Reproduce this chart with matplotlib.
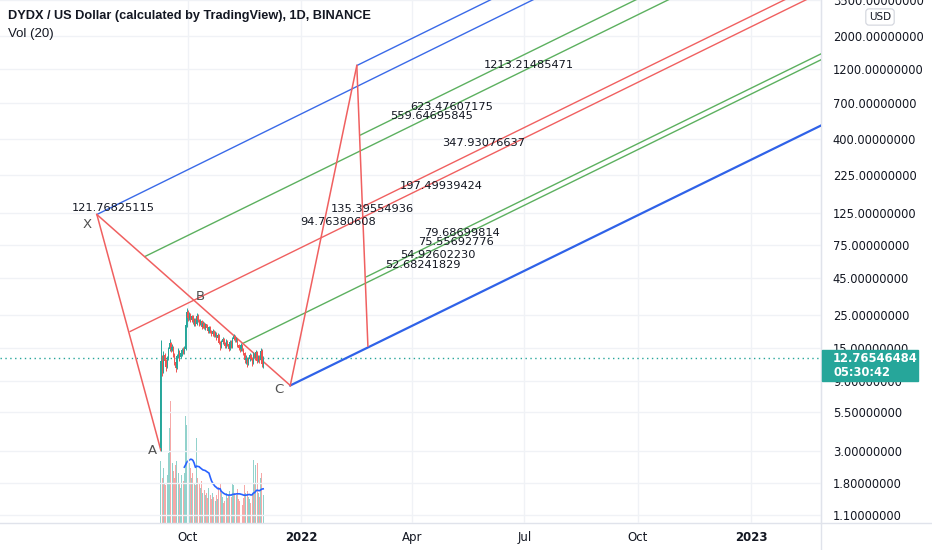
import numpy as np
import pandas as pd
import matplotlib
matplotlib.use("Agg")
import matplotlib.pyplot as plt
from matplotlib.patches import Rectangle
from matplotlib.lines import Line2D
from matplotlib.ticker import NullLocator, NullFormatter

# candles diarios DYDX/USD (Binance), 9 set - 1 dez 2021
dias = pd.date_range("2021-09-09", "2021-12-01", freq="D")
abertura = [3.1, 12.3, 10.5, 13.5, 12.2, 11.2, 12.8, 14.8, 16.2, 14.6, 15.2, 13.4, 12.1, 11.0, 13.3, 14.2,
            13.1, 13.9, 14.6, 14.0, 14.8, 21.5, 26.4, 24.0, 25.2, 23.1, 24.6, 22.4, 23.5, 21.9, 24.8, 23.2,
            21.8, 22.9, 21.0, 22.2, 20.6, 21.8, 20.4, 19.5, 20.8, 19.4, 18.7, 19.6, 18.2, 19.0, 17.6, 18.4,
            16.3, 15.2, 16.4, 17.3, 16.1, 15.4, 16.8, 15.9, 14.8, 16.6, 15.3, 17.4, 18.1, 16.9, 17.2, 15.6,
            15.1, 14.7, 15.8, 14.6, 13.9, 12.4, 12.9, 11.8, 12.6, 13.4, 12.7, 11.9, 13.6, 12.8, 14.1, 12.3,
            13.1, 12.5, 14.4, 11.6]
fechamento = [12.3, 10.5, 13.5, 12.2, 11.2, 12.8, 14.8, 16.2, 14.6, 15.2, 13.4, 12.1, 11.0, 13.3, 14.2, 13.1,
              13.9, 14.6, 14.0, 14.8, 21.5, 26.4, 24.0, 25.2, 23.1, 24.6, 22.4, 23.5, 21.9, 24.8, 23.2, 21.8,
              22.9, 21.0, 22.2, 20.6, 21.8, 20.4, 19.5, 20.8, 19.4, 18.7, 19.6, 18.2, 19.0, 17.6, 18.4, 16.3,
              15.2, 16.4, 17.3, 16.1, 15.4, 16.8, 15.9, 14.8, 16.6, 15.3, 17.4, 18.1, 16.9, 17.2, 15.6, 15.1,
              14.7, 15.8, 14.6, 13.9, 12.4, 12.9, 11.8, 12.6, 13.4, 12.7, 11.9, 13.6, 12.8, 14.1, 12.3, 13.1,
              12.5, 14.4, 11.6, 12.77]
maxima = [17.0, 13.4, 14.2, 13.9, 12.6, 13.3, 15.3, 17.4, 16.6, 15.9, 15.5, 13.8, 12.6, 13.7, 14.9, 14.6,
          14.3, 15.1, 15.2, 15.4, 22.6, 27.9, 27.2, 26.3, 25.8, 25.3, 25.0, 24.1, 23.9, 26.0, 25.4, 23.7,
          23.5, 23.2, 22.8, 22.5, 22.3, 22.0, 20.8, 21.3, 21.1, 19.9, 20.2, 19.8, 19.5, 19.3, 18.9, 18.6,
          16.7, 16.9, 17.8, 17.6, 16.5, 17.2, 17.1, 16.2, 17.0, 16.9, 17.9, 18.7, 18.4, 17.8, 17.6, 15.9,
          15.5, 16.2, 16.0, 15.0, 14.1, 13.4, 13.1, 13.0, 13.8, 13.7, 13.0, 14.0, 13.9, 14.6, 14.3, 13.5,
          13.4, 15.0, 14.7, 13.2]
minima = [3.0, 9.6, 10.1, 11.7, 10.4, 10.9, 12.5, 14.3, 14.0, 14.2, 13.0, 11.5, 10.3, 10.8, 12.9, 12.2,
          12.8, 13.2, 13.6, 13.7, 14.5, 20.8, 22.9, 23.4, 22.5, 22.6, 21.8, 21.3, 21.2, 21.6, 22.7, 21.1,
          21.4, 20.3, 20.6, 20.1, 20.0, 19.9, 18.9, 19.1, 19.0, 18.1, 18.2, 17.7, 17.9, 17.0, 17.2, 15.9,
          14.6, 14.9, 16.0, 15.8, 14.9, 15.1, 15.5, 14.4, 14.6, 14.9, 15.0, 17.0, 16.5, 16.4, 15.2, 14.6,
          14.1, 14.4, 14.2, 13.4, 11.9, 11.7, 11.2, 11.4, 12.3, 12.4, 11.3, 11.6, 12.4, 12.6, 11.8, 12.0,
          11.9, 12.3, 11.1, 11.0]
volume = [62, 45, 55, 40, 38, 48, 70, 95, 122, 60, 52, 45, 58, 62, 50, 40, 35, 48, 42, 50,
          107, 98, 78, 60, 55, 45, 50, 40, 38, 85, 45, 40, 35, 42, 30, 33, 28, 30, 25, 35,
          28, 24, 30, 26, 22, 28, 24, 36, 40, 30, 26, 20, 22, 30, 25, 28, 32, 26, 40, 38,
          30, 28, 34, 24, 22, 20, 18, 25, 38, 30, 32, 26, 24, 20, 28, 63, 40, 58, 60, 30,
          26, 45, 50, 28]
ultimo_preco = 12.76546484
contagem = "05:30:42"

# pontos do padrao X, A, C, D, E
padrao_datas = ["2021-07-19", "2021-09-09", "2021-12-23", "2022-02-15", "2022-02-24"]
padrao_precos = [121.77, 3.0, 8.33, 1260, 15.47]

# linhas paralelas (inicio e fim)
raio_inicio_datas = ["2021-07-19", "2022-02-15", "2021-12-23", "2021-08-27", "2022-02-18",
                     "2021-08-15", "2022-02-20", "2021-11-15", "2022-02-23"]
raio_inicio_precos = [121.77, 1260, 8.33, 63.0, 423.8, 19.43, 137.6, 16.2, 45.9]
raio_fim_data = "2023-03-30"
raio_fim_precos = [44000, 60800, 661, 15380, 19790, 5333, 6288, 1855, 2035]
raio_tipos = ["azul", "azul", "azul_forte", "verde", "verde", "vermelho", "vermelho", "verde", "verde"]

# textos de preco no grafico
rotulos = ["121.76825115", "1213.21485471", "623.47607175", "559.64695845", "347.93076637",
           "197.49939424", "135.39554936", "94.76380608", "79.68699814", "75.55692776",
           "54.92602230", "52.68241829"]
rotulo_datas = ["2021-06-29", "2022-05-29", "2022-03-30", "2022-03-14", "2022-04-25", "2022-03-22",
                "2022-01-25", "2021-12-31", "2022-04-11", "2022-04-06", "2022-03-22", "2022-03-10"]
rotulo_precos = [134.9, 1271, 654.6, 571, 375.7, 191.3, 132.8, 107.8, 91.5, 79.1, 64.5, 55.4]

letras = ["X", "A", "B", "C"]
letra_datas = ["2021-07-11", "2021-09-02", "2021-10-11", "2021-12-14"]
letra_precos = [103.3, 2.98, 33.9, 7.76]

precos_eixo = [3500, 2000, 1200, 700, 400, 225, 125, 75, 45, 25, 15, 9, 5.5, 3, 1.8, 1.1]
datas_eixo = ["2021-10-01", "2022-01-01", "2022-04-01", "2022-07-01", "2022-10-01", "2023-01-01"]
datas_rotulos = ["Oct", "2022", "Apr", "Jul", "Oct", "2023"]

# cores
alta = "#26a69a"
baixa = "#ef5350"
cores_raio = {"azul": ("#3a6ae8", 1.0), "azul_forte": ("#2f62e8", 1.6),
              "verde": ("#5cb05f", 1.0), "vermelho": ("#f06060", 1.0)}
vermelho = "#f06060"
texto = "#131722"

fig = plt.figure(figsize=(9.32, 5.5), dpi=100)
fig.patch.set_facecolor("white")
ax = fig.add_axes([0, 27 / 550, 821 / 932, 523 / 550])
axv = ax.twinx()
ax.set_zorder(2)
ax.patch.set_visible(False)
axv.set_zorder(1)

# volume e media de 20
cores_vol = [alta if c >= o else baixa for o, c in zip(abertura, fechamento)]
axv.bar(dias, volume, width=0.8, color=cores_vol, alpha=0.5)
media = pd.Series(volume, index=dias).rolling(20).mean()
axv.plot(dias, media, color="#2962ff", lw=1.2)
axv.set_ylim(0, max(volume) * 523 / 122)
axv.set_yticks([])
for s in axv.spines.values():
    s.set_visible(False)

ax.set_yscale("log")

# candles
o = np.array(abertura)
c = np.array(fechamento)
cores = [alta if cc >= oo else baixa for oo, cc in zip(o, c)]
ax.vlines(dias, minima, maxima, color=cores, lw=0.7, zorder=4)
ax.bar(dias, np.abs(c - o), bottom=np.minimum(o, c), width=0.9, color=cores, zorder=4)

# linhas paralelas
fim = pd.Timestamp(raio_fim_data)
for d0, p0, p1, tipo in zip(raio_inicio_datas, raio_inicio_precos, raio_fim_precos, raio_tipos):
    cor, lw = cores_raio[tipo]
    ax.plot([pd.Timestamp(d0), fim], [p0, p1], color=cor, lw=lw, zorder=3)

# padrao X-A, X-C, C-D, D-E
pd_datas = pd.to_datetime(padrao_datas)
for i, j in [(0, 1), (0, 2), (2, 3), (3, 4)]:
    ax.plot([pd_datas[i], pd_datas[j]], [padrao_precos[i], padrao_precos[j]],
            color=vermelho, lw=1.1, zorder=3)

for t, d, p in zip(rotulos, rotulo_datas, rotulo_precos):
    ax.text(pd.Timestamp(d), p, t, fontsize=8.2, color=texto, ha="left", va="center", zorder=6)
for t, d, p in zip(letras, letra_datas, letra_precos):
    ax.text(pd.Timestamp(d), p, t, fontsize=9.5, color="#505050", ha="center", va="center", zorder=6)

ax.axhline(ultimo_preco, color=alta, ls=(0, (1, 2.5)), lw=1, zorder=2)

ax.set_xlim(pd.Timestamp("2021-05-01 09:00"), pd.Timestamp("2023-02-26 19:00"))
ax.set_ylim(0.963, 3524)

ax.yaxis.tick_right()
ax.set_yticks(precos_eixo)
ax.set_yticklabels([f"{v:.8f}" for v in precos_eixo])
ax.yaxis.set_minor_locator(NullLocator())
ax.yaxis.set_minor_formatter(NullFormatter())
ax.tick_params(axis="y", length=0, pad=8.5, labelsize=8.3, labelcolor=texto)

ax.set_xticks(pd.to_datetime(datas_eixo))
ax.set_xticklabels(datas_rotulos)
ax.tick_params(axis="x", length=0, pad=6, labelsize=8.5, labelcolor=texto)
for lab in ax.get_xticklabels():
    if lab.get_text().isdigit():
        lab.set_fontweight("bold")

ax.grid(True, color="#f0f2f6", lw=1)
for lado in ["top", "left", "bottom"]:
    ax.spines[lado].set_visible(False)
ax.spines["right"].set_color("#e0e3eb")

# separadores
fig.add_artist(Line2D([0, 1], [27 / 550, 27 / 550], color="#e0e3eb", lw=1, transform=fig.transFigure))
fig.add_artist(Line2D([821 / 932, 821 / 932], [0, 1], color="#e0e3eb", lw=1, transform=fig.transFigure))

# caixa do ultimo preco
fig.add_artist(Rectangle((822 / 932, (550 - 381) / 550), 96 / 932, 31 / 550,
                         transform=fig.transFigure, color=alta, zorder=5))
fig.text(833 / 932, 1 - 358.5 / 550, f"{ultimo_preco:.8f}", color="white", fontsize=8.3,
         fontweight="bold", va="center", zorder=6)
fig.text(833 / 932, 1 - 372.5 / 550, contagem, color="white", fontsize=8.3,
         fontweight="bold", va="center", zorder=6)
fig.text(880 / 932, 1 - 17 / 550, "USD", color=texto, fontsize=7.5, ha="center", va="center",
         bbox=dict(boxstyle="round,pad=0.3", fc="white", ec="#d1d4dc", lw=0.8), zorder=6)

fig.text(8 / 932, 1 - 16 / 550, "DYDX / US Dollar (calculated by TradingView), 1D, BINANCE",
         fontsize=9.2, fontweight="bold", color=texto, va="center", family="Liberation Sans")
fig.text(8 / 932, 1 - 34 / 550, "Vol (20)", fontsize=9.5, color=texto, va="center",
         family="Liberation Sans")

fig.savefig("out.png", dpi=100)
